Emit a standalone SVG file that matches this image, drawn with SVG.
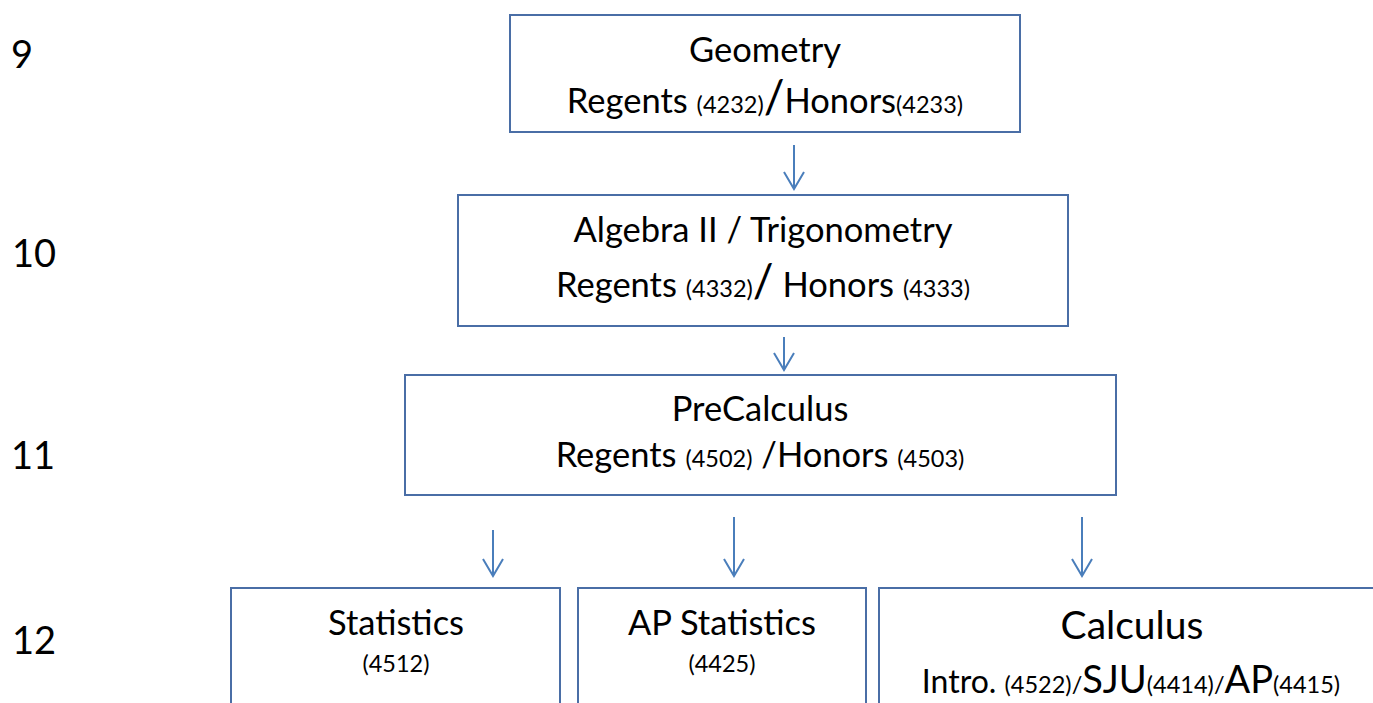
<svg xmlns="http://www.w3.org/2000/svg" width="1373" height="703" viewBox="0 0 1373 703">
<defs>
<style>
.box{fill:#ffffff;stroke:#4a6ea6;stroke-width:2}
.t{font-family:Lato,"Liberation Sans",sans-serif;fill:#000;text-anchor:middle}
.g{font-family:Lato,"Liberation Sans",sans-serif;fill:#000;font-size:38px}
.m{font-size:34.5px}
.s{font-size:23.5px}
.conn{stroke:#4a7ebb;stroke-width:2;fill:none;marker-end:url(#arr)}
</style>
<marker id="arr" markerUnits="userSpaceOnUse" orient="auto" refX="0" refY="0" markerWidth="30" markerHeight="30" overflow="visible">
<path d="M-17,-10 L0,0 L-17,10" fill="none" stroke="#4a7ebb" stroke-width="2"/>
</marker>
</defs>
<rect width="1373" height="703" fill="#ffffff"/>
<g id="grades">
<text class="g" x="11" y="68">9</text>
<text class="g" x="12" y="267">10</text>
<text class="g" x="11" y="469">11</text>
<text class="g" x="12" y="654">12</text>
</g>
<g id="connectors">
<path class="conn" d="M794,145 V189"/>
<path class="conn" d="M784,337 V370"/>
<path class="conn" d="M493,530 V576"/>
<path class="conn" d="M734,517 V576"/>
<path class="conn" d="M1082,517 V576"/>
</g>
<g id="geometry">
<rect class="box" x="510" y="15" width="510" height="117"/>
<text class="t m" x="765" y="62">Geometry</text>
<text class="t" x="765" y="113"><tspan class="m">Regents </tspan><tspan class="s">(4232)</tspan><tspan font-size="46px">/</tspan><tspan class="m">Honors</tspan><tspan class="s">(4233)</tspan></text>
</g>
<g id="algebra2">
<rect class="box" x="458" y="195" width="610" height="131"/>
<text class="t m" x="763" y="242">Algebra II / Trigonometry</text>
<text class="t" x="763" y="297"><tspan class="m">Regents </tspan><tspan class="s">(4332)</tspan><tspan font-size="46px">/</tspan><tspan class="m"> Honors </tspan><tspan class="s">(4333)</tspan></text>
</g>
<g id="precalculus">
<rect class="box" x="405" y="375" width="711" height="120"/>
<text class="t m" x="760" y="421">PreCalculus</text>
<text class="t" x="760" y="467"><tspan class="m">Regents </tspan><tspan class="s">(4502)</tspan><tspan class="m"> /Honors </tspan><tspan class="s">(4503)</tspan></text>
</g>
<g id="statistics">
<rect class="box" x="231" y="588" width="329" height="140"/>
<text class="t m" x="396" y="635">Statistics</text>
<text class="t s" x="396" y="672">(4512)</text>
</g>
<g id="ap-statistics">
<rect class="box" x="578" y="588" width="288" height="140"/>
<text class="t m" x="722" y="635">AP Statistics</text>
<text class="t s" x="722" y="672">(4425)</text>
</g>
<g id="calculus">
<rect class="box" x="879" y="588" width="505" height="140"/>
<text class="t" x="1132" y="639" font-size="39px">Calculus</text>
<text class="t" x="1131" y="693"><tspan font-size="32px">Intro. </tspan><tspan class="s">(4522)/</tspan><tspan font-size="38px">SJU</tspan><tspan class="s">(4414)/</tspan><tspan font-size="38px">AP</tspan><tspan class="s">(4415)</tspan></text>
</g>
</svg>
